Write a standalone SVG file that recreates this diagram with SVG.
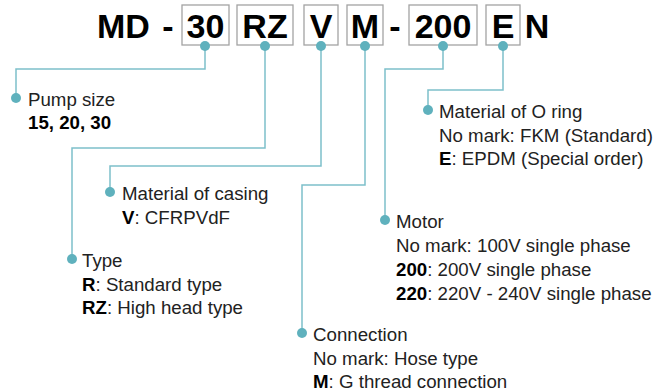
<svg xmlns="http://www.w3.org/2000/svg" width="668" height="391" viewBox="0 0 668 391">
<style>
.t{font-family:"Liberation Sans",Arial,sans-serif;font-size:34px;font-weight:bold;fill:#000}
.box{fill:#fff;stroke:#a3a3a3;stroke-width:1.3}
.l{font-family:"Liberation Sans",Arial,sans-serif;font-size:18.7px;fill:#222}
.b{font-weight:bold;fill:#000}
.c{fill:none;stroke:#7dc0ca;stroke-width:1.5}
.d{fill:#5fb1bd}
</style>
<rect width="668" height="391" fill="#fff"/>
<g id="code">
<text class="t" x="97" y="37.5">MD</text>
<text class="t" x="168" y="37.5" text-anchor="middle">-</text>
<rect class="box" x="182" y="5" width="47" height="40"/>
<text class="t" x="205.5" y="37.5" text-anchor="middle">30</text>
<rect class="box" x="237" y="5" width="56" height="40"/>
<text class="t" x="265" y="37.5" text-anchor="middle">RZ</text>
<rect class="box" x="304" y="5" width="34" height="40"/>
<text class="t" x="321" y="37.5" text-anchor="middle">V</text>
<rect class="box" x="347" y="5" width="36" height="40"/>
<text class="t" x="365" y="37.5" text-anchor="middle">M</text>
<text class="t" x="395" y="37.5" text-anchor="middle">-</text>
<rect class="box" x="409" y="5" width="68" height="40"/>
<text class="t" x="443" y="37.5" text-anchor="middle">200</text>
<rect class="box" x="486" y="5" width="34" height="40"/>
<text class="t" x="503" y="37.5" text-anchor="middle">E</text>
<text class="t" x="537" y="37.5" text-anchor="middle">N</text>
</g>
<g id="connectors">
<polyline class="c" points="205,46 205,69 16,69 16,98"/>
<polyline class="c" points="265,46 265,148 72,148 72,259"/>
<polyline class="c" points="321,46 321,166 110,166 110,192"/>
<polyline class="c" points="365,46 365,185 302,185 302,333"/>
<polyline class="c" points="443,46 443,69 385,69 385,220"/>
<polyline class="c" points="503,46 503,90 428,90 428,110"/>
<circle class="d" cx="205" cy="46" r="5"/>
<circle class="d" cx="265" cy="46" r="5"/>
<circle class="d" cx="321" cy="46" r="5"/>
<circle class="d" cx="365" cy="46" r="5"/>
<circle class="d" cx="443" cy="46" r="5"/>
<circle class="d" cx="503" cy="46" r="5"/>
</g>
<g id="pump-size">
<circle class="d" cx="16" cy="98" r="5"/>
<text class="l" x="28" y="106">Pump size</text>
<text class="l b" x="28" y="128.5">15, 20, 30</text>
</g>
<g id="type">
<circle class="d" cx="72" cy="259" r="5"/>
<text class="l" x="82" y="267">Type</text>
<text class="l" x="82" y="290.5"><tspan class="b">R</tspan>: Standard type</text>
<text class="l" x="82" y="313.5"><tspan class="b">RZ</tspan>: High head type</text>
</g>
<g id="casing">
<circle class="d" cx="110" cy="192" r="5"/>
<text class="l" x="122" y="200">Material of casing</text>
<text class="l" x="122" y="224"><tspan class="b">V</tspan>: CFRPVdF</text>
</g>
<g id="connection">
<circle class="d" cx="302" cy="333" r="5"/>
<text class="l" x="313" y="341">Connection</text>
<text class="l" x="313" y="364.5">No mark: Hose type</text>
<text class="l" x="313" y="388"><tspan class="b">M</tspan>: G thread connection</text>
</g>
<g id="motor">
<circle class="d" cx="385" cy="220" r="5"/>
<text class="l" x="396" y="228">Motor</text>
<text class="l" x="396" y="252">No mark: 100V single phase</text>
<text class="l" x="396" y="276"><tspan class="b">200</tspan>: 200V single phase</text>
<text class="l" x="396" y="300"><tspan class="b">220</tspan>: 220V - 240V single phase</text>
</g>
<g id="o-ring">
<circle class="d" cx="428" cy="110" r="5"/>
<text class="l" x="439" y="118">Material of O ring</text>
<text class="l" x="439" y="141.5">No mark: FKM (Standard)</text>
<text class="l" x="439" y="165"><tspan class="b">E</tspan>: EPDM (Special order)</text>
</g>
</svg>
